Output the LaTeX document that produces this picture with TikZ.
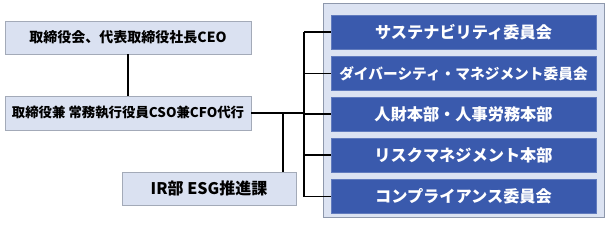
\documentclass[tikz,border=0pt]{standalone}
\usepackage{fontspec}
\setmainfont{Noto Sans CJK JP}
\definecolor{lightbox}{HTML}{DAE1F1}
\definecolor{boxline}{HTML}{A3AAB8}
\definecolor{panelfill}{HTML}{DCE3F2}
\definecolor{panelline}{HTML}{8E98AC}
\definecolor{bluebox}{HTML}{3A5AAD}
\tikzset{
  leftbox/.style={draw=boxline, line width=0.8pt, fill=lightbox, inner sep=0pt, font=\bfseries},
  bluebox/.style={fill=bluebox, draw=bluebox!80!white, line width=0.6pt, minimum width=265pt, minimum height=34pt, inner sep=0pt, text=white, font=\bfseries\fontsize{16.2}{18}\selectfont},
  panel/.style={draw=panelline, line width=0.8pt, fill=panelfill, minimum width=281pt, minimum height=214pt, inner sep=0pt},
  conn/.style={line width=1.4pt, black}
}
\begin{document}
\begin{tikzpicture}[x=1pt,y=-1pt]
\useasboundingbox (0,0) rectangle (605,226);
\node[leftbox, minimum width=246pt, minimum height=33pt, font=\bfseries\fontsize{14}{16}\selectfont] (b1) at (128,37.5) {取締役会、代表取締役社長CEO};
\node[leftbox, minimum width=246pt, minimum height=34pt, font=\bfseries\fontsize{13.4}{15}\selectfont] (b2) at (128,113) {取締役兼 常務執行役員CSO兼CFO代行};
\node[leftbox, minimum width=174pt, minimum height=33pt, font=\bfseries\fontsize{16}{18}\selectfont] (ir) at (209,188.5) {IR部 ESG推進課};
\node[panel] (panel) at (463.5,110) {};
\node[bluebox] (r1) at (463.5,32) {サステナビリティ委員会};
\node[bluebox, font=\bfseries\fontsize{14.7}{16}\selectfont] (r2) at (463.5,73.5) {ダイバーシティ・マネジメント委員会};
\node[bluebox] (r3) at (463.5,114) {人財本部・人事労務本部};
\node[bluebox] (r4) at (463.5,155) {リスクマネジメント本部};
\node[bluebox] (r5) at (463.5,196.5) {コンプライアンス委員会};
\coordinate (busx) at (304,0);
\coordinate (j) at (283,113);
\draw[conn] (b1) -- (b2);
\draw[conn] (b2.east) -- (b2.east -| busx);
\draw[conn] (j) -- (j |- ir.north);
\draw[conn] (r1.west -| busx) -- (r5.west -| busx);
\foreach \r in {r1,r2,r3,r4,r5} {
  \draw[conn] (\r.west -| busx) -- (\r.west);
}
\end{tikzpicture}
\end{document}
